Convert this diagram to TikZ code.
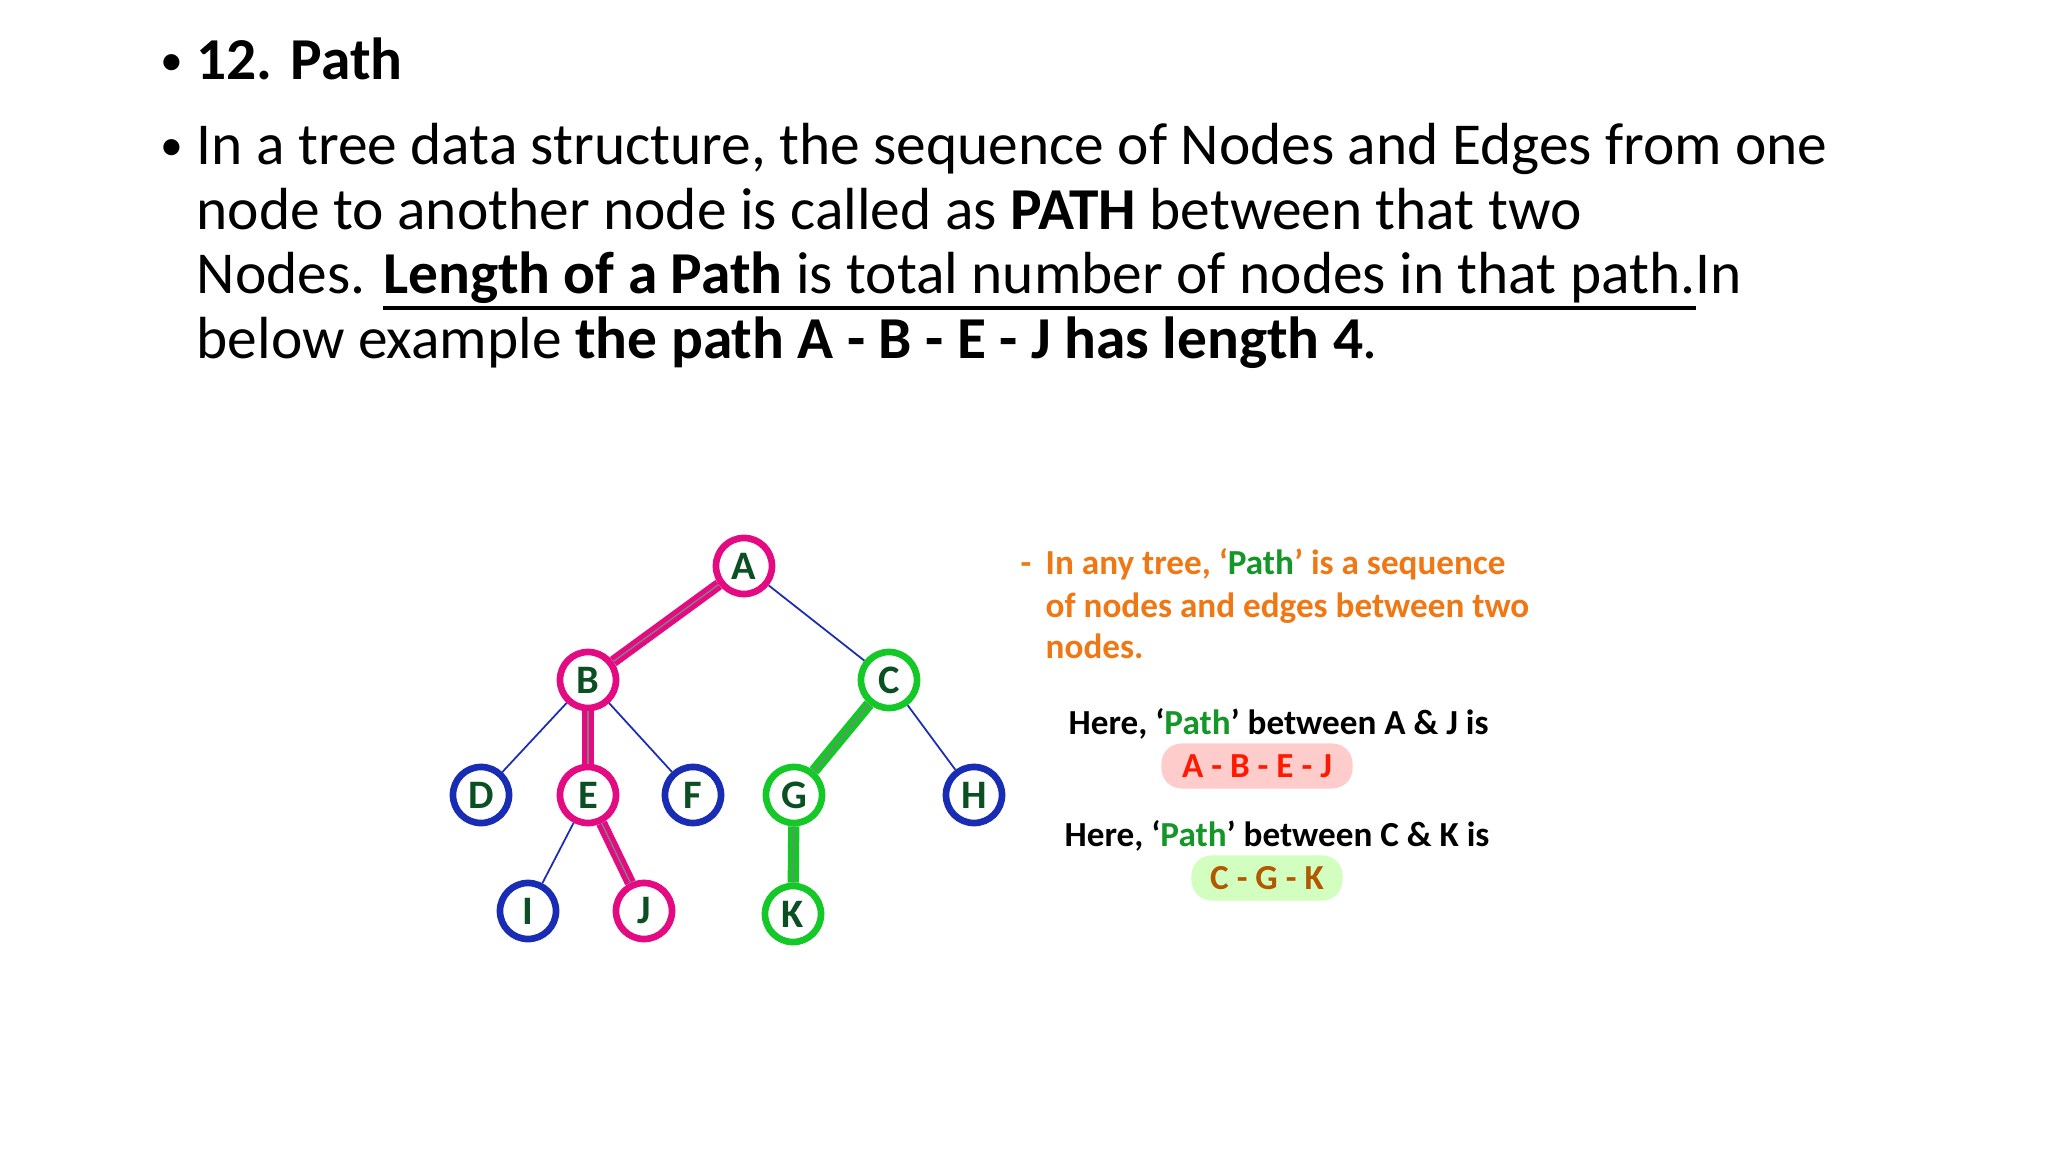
\documentclass[tikz,border=0pt]{standalone}
\usepackage{fontspec}
\setmainfont{Carlito}
\newcommand{\myul}[1]{\setbox0\hbox{#1}\rlap{\raisebox{-4.5pt}{\rule{\wd0}{1.1pt}}}\box0}
\begin{document}
\begin{tikzpicture}[x=0.01cm,y=-0.01cm,
  tn/.style={circle,draw=#1,line width=1.9pt,minimum size=0.56cm,inner sep=0pt,fill=white,
    text=tgreen,font=\fontsize{11.5}{12}\selectfont\bfseries},
  thin/.style={draw=tblue,line width=0.5pt},
  pathm/.style={draw=tmag,line width=3.2pt},
  pathg/.style={draw=tgrn,line width=3.2pt},
  inner/.style={draw=black!50,line width=0.4pt},
  body/.style={anchor=base west,inner sep=0pt,font=\fontsize{16.9}{20}\selectfont},
  side/.style={anchor=base west,inner sep=0pt,font=\fontsize{10}{12}\selectfont\bfseries},
  pill/.style={rounded corners=0.2cm,inner sep=0pt,font=\fontsize{10}{12}\selectfont\bfseries}]
\definecolor{tmag}{RGB}{228,10,130}
\definecolor{tgrn}{RGB}{20,200,40}
\definecolor{tblue}{RGB}{25,45,180}
\definecolor{tgreen}{RGB}{10,80,35}
\definecolor{tor}{RGB}{240,120,20}
\definecolor{pgreen}{RGB}{20,150,40}
\useasboundingbox (0,0) rectangle (2048,1152);
\fill[white] (0,0) rectangle (2048,1152);
% header text
\node[body,font=\fontsize{13}{15}\selectfont] (b1) at (160,76) {•};
\node[body] (t0) at (196,80) {\bfseries 12. Path};
\node[body,font=\fontsize{13}{15}\selectfont] (b2) at (160,161) {•};
\node[body] (t1) at (196,165) {In a tree data structure, the sequence of Nodes and Edges from one};
\node[body] (t2) at (196,230) {node to another node is called as \textbf{PATH} between that two};
\node[body] (t3) at (196,294) {Nodes. \myul{\textbf{Length of a Path} is total number of nodes in that path.} In};
\node[body] (t4) at (196,359) {below example \textbf{the path A - B - E - J has length 4}.};
% tree nodes
\node[tn=tmag] (A) at (744,566) {A};
\node[tn=tmag] (B) at (588,680) {B};
\node[tn=tgrn] (C) at (889,680) {C};
\node[tn=tblue] (D) at (481,795) {D};
\node[tn=tmag] (E) at (588,795) {E};
\node[tn=tblue] (F) at (693,795) {F};
\node[tn=tgrn] (G) at (794,795) {G};
\node[tn=tblue] (H) at (974,795) {H};
\node[tn=tblue] (I) at (528,911) {I};
\node[tn=tmag] (J) at (644,911) {J};
\node[tn=tgrn] (K) at (793,914) {K};
\draw[thin] (A) -- (C);
\draw[thin] (B) -- (D);
\draw[thin] (B) -- (F);
\draw[thin] (C) -- (H);
\draw[thin] (E) -- (I);
\draw[pathm] (A) -- (B);
\draw[inner] (A) -- (B);
\draw[pathm] (B) -- (E);
\draw[inner] (B) -- (E);
\draw[pathm] (E) -- (J);
\draw[inner] (E) -- (J);
\draw[pathg] (C) -- (G);
\draw[inner] (C) -- (G);
\draw[pathg] (G) -- (K);
\draw[inner] (G) -- (K);
% side text
\node[side,text=tor] (dash) at (1020,574) {-};
\node[side,text=tor] (s1) at (1045,574) {In any tree, ‘\textcolor{pgreen}{Path}’ is a sequence};
\node[side,text=tor] (s2) at (1045,617) {of nodes and edges between two};
\node[side,text=tor] (s3) at (1045,659) {nodes.};
\node[side] (h1) at (1068,734) {Here, ‘\textcolor{pgreen}{Path}’ between A \& J is};
\node[pill,fill=pink!80,minimum width=1.91cm,minimum height=0.45cm,text=red!80!orange] (p1) at (1257,766) {A - B - E - J};
\node[side] (h2) at (1064,846) {Here, ‘\textcolor{pgreen}{Path}’ between C \& K is};
\node[pill,fill=green!60!lime!25,minimum width=1.51cm,minimum height=0.45cm,text=orange!70!black] (p2) at (1267,878) {C - G - K};
\end{tikzpicture}
\end{document}
